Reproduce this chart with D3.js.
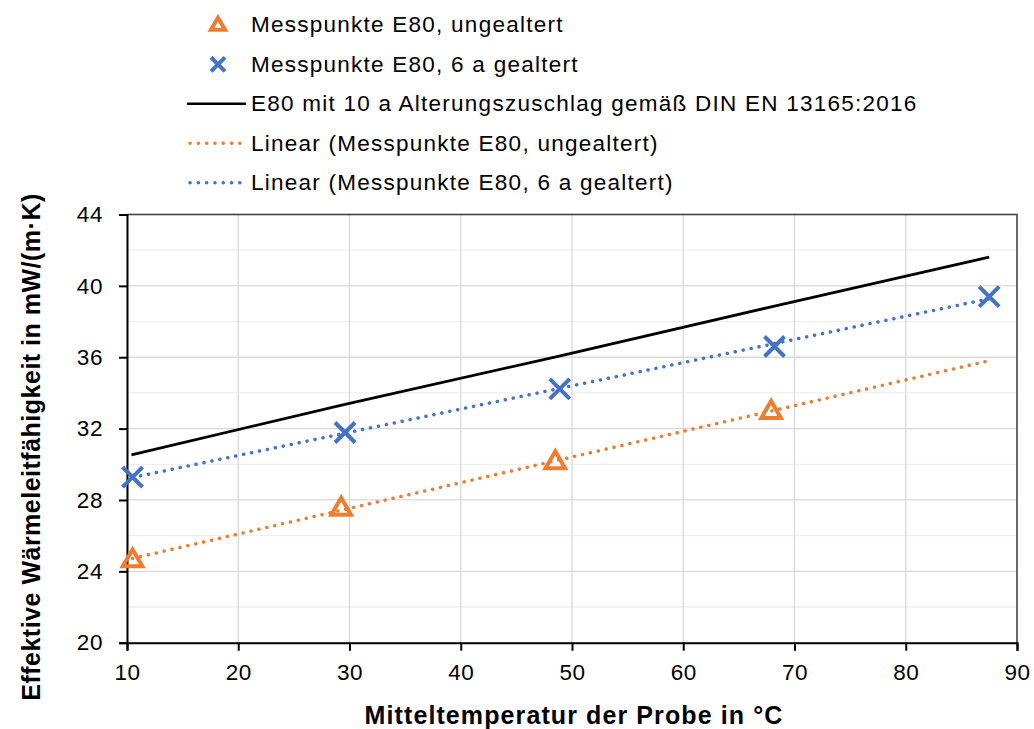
<!DOCTYPE html>
<html><head><meta charset="utf-8">
<script src="https://cdn.jsdelivr.net/npm/d3@7"></script>
<style>body{margin:0;background:#fff}svg{display:block}text{font-family:"Liberation Sans",Arial,sans-serif}</style>
</head><body>
<svg id="c" width="1034" height="729"></svg>
<script>
const ungealtertX = [10.5, 29.25, 48.5, 67.9];
const ungealtertY = [24.65, 27.55, 30.15, 32.97];
const gealtertX = [10.5, 29.6, 48.9, 68.2, 87.5];
const gealtertY = [29.28, 31.78, 34.23, 36.6, 39.4];
const zuschlagX = [10.4, 29.4, 48.65, 68.0, 87.5];
const zuschlagY = [30.53, 33.33, 36.04, 38.84, 41.61];
const xTicks = [10, 20, 30, 40, 50, 60, 70, 80, 90];
const yTicks = [20, 24, 28, 32, 36, 40, 44];
const yMinor = [22, 26, 30, 34, 38, 42];
const legendLabels = ["Messpunkte E80, ungealtert", "Messpunkte E80, 6 a gealtert",
  "E80 mit 10 a Alterungszuschlag gemäß DIN EN 13165:2016",
  "Linear (Messpunkte E80, ungealtert)", "Linear (Messpunkte E80, 6 a gealtert)"];
const xTitle = "Mitteltemperatur der Probe in °C";
const yTitle = "Effektive Wärmeleitfähigkeit in mW/(m·K)";

const ORANGE = "#ED7D31", BLUE = "#4472C4";
const svg = d3.select("#c");
const L = 127, R = 1017, T = 214.5, B = 642.7;
const x = d3.scaleLinear().domain([10, 90]).range([L, R]);
const y = d3.scaleLinear().domain([20, 44]).range([B, T]);

// grid
const g = svg.append("g");
g.selectAll(".ym").data(yMinor).join("line").attr("x1", L).attr("x2", R)
  .attr("y1", d => y(d)).attr("y2", d => y(d)).attr("stroke", "#efefef").attr("stroke-width", 1.3);
g.selectAll(".yg").data(yTicks).join("line").attr("x1", L).attr("x2", R)
  .attr("y1", d => y(d)).attr("y2", d => y(d)).attr("stroke", "#d9d9d9").attr("stroke-width", 1.3);
g.selectAll(".xg").data(xTicks).join("line").attr("y1", T).attr("y2", B)
  .attr("x1", d => x(d)).attr("x2", d => x(d)).attr("stroke", "#d9d9d9").attr("stroke-width", 1.3);

// frame top/right
svg.append("path").attr("d", `M${L},${T}H${R}V${B}`).attr("fill", "none").attr("stroke", "#404040").attr("stroke-width", 1.5);

// axes
const xAxis = svg.append("g").attr("transform", `translate(0,${B})`)
  .call(d3.axisBottom(x).tickValues(xTicks).tickSize(8).tickPadding(13));
const yAxis = svg.append("g").attr("transform", `translate(${L},0)`)
  .call(d3.axisLeft(y).tickValues(yTicks).tickSize(8).tickPadding(16));
[xAxis, yAxis].forEach(a => {
  a.select(".domain").attr("stroke", "#000").attr("stroke-width", 2);
  a.selectAll(".tick line").attr("stroke", "#000").attr("stroke-width", 2);
  a.selectAll(".tick text").attr("font-size", 22.5).attr("letter-spacing", 0.6).attr("fill", "#000").attr("font-family", '"Liberation Sans",Arial,sans-serif');
});

// regression
function fit(xs, ys) {
  const n = xs.length, mx = d3.mean(xs), my = d3.mean(ys);
  let sxy = 0, sxx = 0;
  for (let i = 0; i < n; i++) { sxy += (xs[i] - mx) * (ys[i] - my); sxx += (xs[i] - mx) ** 2; }
  const b = sxy / sxx; return v => my + b * (v - mx);
}
const ext = d3.extent(gealtertX);
const fO = fit(ungealtertX, ungealtertY), fB = fit(gealtertX, gealtertY);
const line = d3.line().x(d => x(d[0])).y(d => y(d[1]));
const trend = (f, c) => svg.append("path").attr("d", line(ext.map(v => [v, f(v)])))
  .attr("fill", "none").attr("stroke", c).attr("stroke-width", 3.5)
  .attr("stroke-dasharray", "0.1 8").attr("stroke-linecap", "round");
trend(fO, ORANGE);
trend(fB, BLUE);

// black line
svg.append("path").attr("d", line(zuschlagX.map((v, i) => [v, zuschlagY[i]])))
  .attr("fill", "none").attr("stroke", "#000").attr("stroke-width", 2.8);

// markers
const tri = d3.symbol().type(d3.symbolTriangle).size(165);
svg.selectAll(".tri").data(ungealtertX.map((v, i) => [v, ungealtertY[i]])).join("path")
  .attr("d", tri).attr("transform", d => `translate(${x(d[0])},${y(d[1]) + 1})`)
  .attr("fill", "none").attr("stroke", ORANGE).attr("stroke-width", 4);
const cross = (s) => `M${-s},${-s}L${s},${s}M${-s},${s}L${s},${-s}`;
svg.selectAll(".crs").data(gealtertX.map((v, i) => [v, gealtertY[i]])).join("path")
  .attr("d", cross(10)).attr("transform", d => `translate(${x(d[0])},${y(d[1])})`)
  .attr("fill", "none").attr("stroke", BLUE).attr("stroke-width", 4);

// legend
const lg = svg.append("g");
legendLabels.forEach((t, i) => {
  const base = 32.3 + 39.5 * i, cy = base - 7.5;
  lg.append("text").attr("x", 251).attr("y", base).attr("font-size", 22.5).attr("letter-spacing", 1.25).attr("fill", "#000").text(t);
  if (i === 0) lg.append("path").attr("d", d3.symbol().type(d3.symbolTriangle).size(85)()).attr("transform", `translate(218,${cy + 1})`)
    .attr("fill", "none").attr("stroke", ORANGE).attr("stroke-width", 4);
  else if (i === 1) lg.append("path").attr("d", cross(7)).attr("transform", `translate(218,${cy})`)
    .attr("fill", "none").attr("stroke", BLUE).attr("stroke-width", 4);
  else {
    const c = i === 2 ? "#000" : (i === 3 ? ORANGE : BLUE);
    const l = lg.append("line").attr("x1", 187).attr("x2", 246).attr("y1", cy).attr("y2", cy).attr("stroke", c);
    if (i === 2) l.attr("stroke-width", 2.5);
    else l.attr("x1", 190).attr("x2", 240).attr("stroke-width", 3.5).attr("stroke-dasharray", "0.1 8.2").attr("stroke-linecap", "round");
  }
});

// titles
svg.append("text").attr("x", (L + R) / 2 + 2).attr("y", 724).attr("text-anchor", "middle")
  .attr("font-size", 25).attr("letter-spacing", 1.1).attr("font-weight", "bold").attr("fill", "#000").text(xTitle);
svg.append("text").attr("transform", `translate(40,447) rotate(-90)`).attr("text-anchor", "middle")
  .attr("font-size", 25).attr("letter-spacing", 0.5).attr("font-weight", "bold").attr("fill", "#000").text(yTitle);
</script>
</body></html>
